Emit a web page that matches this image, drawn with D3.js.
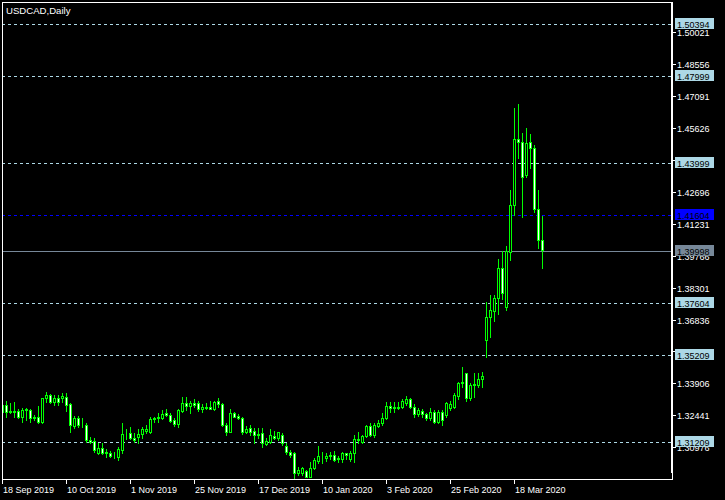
<!DOCTYPE html>
<html>
<head>
<meta charset="utf-8">
<script src="https://cdn.jsdelivr.net/npm/d3@7/dist/d3.min.js"></script>
<style>
html,body{margin:0;padding:0;background:#000;}
svg{display:block;}
text{font-family:"Liberation Sans",Arial,sans-serif;}
</style>
</head>
<body>
<svg id="chart" width="725" height="500"></svg>
<script>
// ---------- DATA ----------
const chartTitle = "USDCAD,Daily";

// daily OHLC, 18 Sep 2019 .. 27 Mar 2020 (136 bars)
const openValues = [
1.3262,1.3292,1.3263,1.3261,1.3263,1.3238,1.3269,1.3269,1.3238,1.3238,
1.3212,1.3322,1.3338,1.3307,1.3322,1.3322,1.3330,1.3295,1.3197,1.3234,
1.3200,1.3200,1.3131,1.3127,1.3073,1.3093,1.3073,1.3073,1.3058,1.3055,
1.3086,1.3159,1.3165,1.3142,1.3144,1.3159,1.3174,1.3170,1.3226,1.3232,
1.3231,1.3254,1.3246,1.3223,1.3203,1.3266,1.3303,1.3287,1.3300,1.3300,
1.3272,1.3281,1.3281,1.3272,1.3312,1.3296,1.3200,1.3170,1.3254,1.3241,
1.3231,1.3167,1.3185,1.3174,1.3154,1.3162,1.3113,1.3124,1.3150,1.3139,
1.3154,1.3104,1.3078,1.3073,1.2979,1.2982,1.2991,1.2963,1.3002,1.3037,
1.3055,1.3047,1.3058,1.3063,1.3043,1.3043,1.3070,1.3043,1.3070,1.3130,
1.3124,1.3150,1.3196,1.3154,1.3196,1.3208,1.3231,1.3287,1.3281,1.3277,
1.3281,1.3303,1.3318,1.3284,1.3251,1.3266,1.3251,1.3231,1.3261,1.3215,
1.3261,1.3246,1.3277,1.3284,1.3333,1.3391,1.3437,1.3322,1.3383,1.3383,
1.3409,1.3590,1.3694,1.3724,1.3781,1.3918,1.3743,1.3995,1.4208,1.4509,
1.4499,1.4346,1.4499,1.4468,1.4189,1.4048];
const highValues = [
1.3296,1.3310,1.3299,1.3304,1.3273,1.3280,1.3276,1.3273,1.3246,1.3289,
1.3325,1.3350,1.3341,1.3338,1.3338,1.3345,1.3345,1.3299,1.3243,1.3243,
1.3234,1.3211,1.3144,1.3139,1.3119,1.3119,1.3090,1.3083,1.3078,1.3101,
1.3211,1.3180,1.3193,1.3165,1.3180,1.3193,1.3200,1.3235,1.3238,1.3257,
1.3269,1.3272,1.3254,1.3231,1.3272,1.3330,1.3327,1.3312,1.3318,1.3312,
1.3296,1.3300,1.3312,1.3312,1.3323,1.3300,1.3211,1.3272,1.3261,1.3251,
1.3238,1.3196,1.3200,1.3185,1.3185,1.3185,1.3139,1.3180,1.3174,1.3170,
1.3162,1.3116,1.3086,1.3076,1.3009,1.3006,1.2994,1.3032,1.3047,1.3104,
1.3078,1.3070,1.3078,1.3083,1.3058,1.3078,1.3074,1.3083,1.3154,1.3170,
1.3154,1.3200,1.3208,1.3208,1.3223,1.3254,1.3307,1.3307,1.3307,1.3307,
1.3318,1.3333,1.3322,1.3296,1.3277,1.3272,1.3254,1.3277,1.3269,1.3269,
1.3269,1.3307,1.3312,1.3345,1.3399,1.3468,1.3440,1.3391,1.3437,1.3437,
1.3445,1.3766,1.3796,1.3796,1.3959,1.3999,1.4021,1.4277,1.4652,1.4671,
1.4540,1.4560,1.4534,1.4484,1.4277,1.4158];
const lowValues = [
1.3244,1.3238,1.3254,1.3238,1.3231,1.3215,1.3223,1.3212,1.3223,1.3208,
1.3208,1.3307,1.3299,1.3292,1.3292,1.3307,1.3264,1.3170,1.3188,1.3193,
1.3193,1.3124,1.3116,1.3078,1.3067,1.3067,1.3055,1.3052,1.3047,1.3040,
1.3073,1.3135,1.3135,1.3124,1.3116,1.3139,1.3162,1.3165,1.3216,1.3216,
1.3226,1.3242,1.3216,1.3196,1.3190,1.3261,1.3269,1.3254,1.3281,1.3266,
1.3261,1.3272,1.3272,1.3270,1.3284,1.3196,1.3154,1.3166,1.3235,1.3226,
1.3159,1.3162,1.3154,1.3116,1.3139,1.3101,1.3109,1.3116,1.3135,1.3131,
1.3109,1.3067,1.3052,1.2951,1.2971,1.2971,1.2960,1.2960,1.2997,1.3024,
1.3024,1.3037,1.3043,1.3037,1.3032,1.3032,1.3043,1.3037,1.3032,1.3119,
1.3119,1.3147,1.3150,1.3147,1.3190,1.3200,1.3226,1.3261,1.3261,1.3272,
1.3277,1.3292,1.3276,1.3235,1.3241,1.3235,1.3223,1.3223,1.3211,1.3211,
1.3200,1.3238,1.3269,1.3276,1.3318,1.3376,1.3312,1.3315,1.3327,1.3376,
1.3376,1.3513,1.3605,1.3678,1.3709,1.3776,1.3727,1.3956,1.4163,1.4422,
1.4152,1.4335,1.4376,1.4178,1.4010,1.3918];
const closeValues = [
1.3291,1.3261,1.3261,1.3263,1.3238,1.3269,1.3273,1.3234,1.3231,1.3215,
1.3322,1.3338,1.3304,1.3322,1.3307,1.3334,1.3292,1.3200,1.3234,1.3200,
1.3202,1.3132,1.3124,1.3086,1.3093,1.3070,1.3075,1.3058,1.3056,1.3089,
1.3159,1.3161,1.3139,1.3131,1.3159,1.3180,1.3180,1.3226,1.3231,1.3235,
1.3251,1.3246,1.3220,1.3203,1.3269,1.3303,1.3287,1.3303,1.3294,1.3272,
1.3284,1.3278,1.3273,1.3307,1.3297,1.3200,1.3170,1.3257,1.3238,1.3231,
1.3170,1.3180,1.3170,1.3154,1.3159,1.3116,1.3128,1.3154,1.3140,1.3167,
1.3119,1.3078,1.3063,1.2982,1.2994,1.3002,1.2963,1.3002,1.3040,1.3058,
1.3052,1.3058,1.3063,1.3040,1.3047,1.3073,1.3063,1.3073,1.3135,1.3135,
1.3150,1.3196,1.3154,1.3200,1.3211,1.3231,1.3287,1.3277,1.3277,1.3281,
1.3312,1.3318,1.3284,1.3251,1.3269,1.3251,1.3231,1.3261,1.3215,1.3261,
1.3223,1.3299,1.3296,1.3338,1.3394,1.3399,1.3322,1.3383,1.3388,1.3409,
1.3425,1.3694,1.3727,1.3781,1.3918,1.3804,1.3999,1.4208,1.4509,1.4499,
1.4335,1.4494,1.4468,1.4189,1.4048,1.4000];

// time axis labels and the bar index they sit on
const timeLabelText = ["18 Sep 2019","10 Oct 2019","1 Nov 2019","25 Nov 2019","17 Dec 2019","10 Jan 2020","3 Feb 2020","25 Feb 2020","18 Mar 2020"];
const timeLabelBar = [0,16,32,48,64,80,96,112,128];

// price axis tick labels
const priceTickValues = [1.50021,1.48556,1.47091,1.45626,1.44161,1.42696,1.41231,1.39766,1.38301,1.36836,1.35371,1.33906,1.32441,1.30976];

// horizontal level lines
const levelValues = [1.50394,1.47999,1.43999,1.37604,1.35209,1.31209];
const blueLevelValue = 1.41604;
const bidValue = 1.39998;

// ---------- DRAW ----------
const svg = d3.select("#chart");
svg.append("rect").attr("width",725).attr("height",500).attr("fill","#000");

const plotLeft = 2, plotTop = 2, plotRight = 672, plotBottom = 479;

const x = d3.scaleLinear().domain([0, 167.5]).range([2.5, 672.5]);
const y = d3.scaleLinear().domain([1.29802, 1.51389]).range([473, 2]);

const bars = openValues.map((o,i)=>({i, o, h:highValues[i], l:lowValues[i], c:closeValues[i]}));

const defs = svg.append("defs");
defs.append("clipPath").attr("id","plotclip").append("rect")
  .attr("x",plotLeft+1).attr("y",plotTop+1)
  .attr("width",plotRight-plotLeft-2).attr("height",plotBottom-plotTop-1);

const plot = svg.append("g").attr("clip-path","url(#plotclip)").attr("shape-rendering","crispEdges");

const ry = v => Math.round(y(v)) + 0.5;

// level lines (behind candles)
plot.selectAll("line.level").data(levelValues).enter().append("line")
  .attr("class","level")
  .attr("x1",plotLeft).attr("x2",plotRight)
  .attr("y1",ry).attr("y2",ry)
  .attr("stroke","#ADD8E6").attr("stroke-width",1).attr("stroke-dasharray","3,3");
plot.append("line")
  .attr("x1",plotLeft).attr("x2",plotRight)
  .attr("y1",ry(blueLevelValue)).attr("y2",ry(blueLevelValue))
  .attr("stroke","#0000FF").attr("stroke-width",1).attr("stroke-dasharray","3,3");
plot.append("line")
  .attr("x1",plotLeft).attr("x2",plotRight)
  .attr("y1",ry(bidValue)).attr("y2",ry(bidValue))
  .attr("stroke","#778899").attr("stroke-width",1);

// candles
const candle = plot.selectAll("g.candle").data(bars).enter().append("g").attr("class","candle");
candle.append("line")
  .attr("x1",d=>x(d.i)).attr("x2",d=>x(d.i))
  .attr("y1",d=>Math.round(y(d.h)))
  .attr("y2",d=>Math.round(y(d.l))+1)
  .attr("stroke","#00FF00").attr("stroke-width",1);
candle.append("rect")
  .attr("x",d=>x(d.i)-1)
  .attr("width",2)
  .attr("y",d=>ry(Math.max(d.o,d.c)))
  .attr("height",d=>Math.max(0, ry(Math.min(d.o,d.c)) - ry(Math.max(d.o,d.c))))
  .attr("fill",d=>d.c>=d.o ? "#000000" : "#FFFFFF")
  .attr("stroke","#00FF00").attr("stroke-width",1);

// frame
const frame = svg.append("g").attr("shape-rendering","crispEdges").attr("stroke","#FFFFFF").attr("stroke-width",1);
frame.append("line").attr("x1",plotLeft+0.5).attr("x2",plotLeft+0.5).attr("y1",plotTop).attr("y2",plotBottom+1);
frame.append("line").attr("x1",plotLeft).attr("x2",plotRight+1).attr("y1",plotTop+0.5).attr("y2",plotTop+0.5);
frame.append("line").attr("x1",plotLeft).attr("x2",plotRight+1).attr("y1",plotBottom+0.5).attr("y2",plotBottom+0.5);
frame.append("line").attr("x1",plotRight+0.5).attr("x2",plotRight+0.5).attr("y1",plotTop).attr("y2",plotBottom+1);
frame.append("line").attr("x1",plotRight-0.5).attr("x2",plotRight-0.5).attr("y1",plotTop).attr("y2",473);

// price axis ticks and labels
const pAxis = svg.append("g");
pAxis.selectAll("line").data(priceTickValues).enter().append("line")
  .attr("shape-rendering","crispEdges")
  .attr("x1",plotRight+1).attr("x2",plotRight+4)
  .attr("y1",ry).attr("y2",ry)
  .attr("stroke","#FFFFFF");
pAxis.selectAll("text").data(priceTickValues).enter().append("text")
  .attr("x",plotRight+5).attr("y",d=>Math.round(y(d))+4)
  .attr("fill","#FFFFFF").attr("font-size","9px")
  .text(d=>d.toFixed(5));

// time axis ticks and labels
const tAxis = svg.append("g");
tAxis.selectAll("line").data(timeLabelBar).enter().append("line")
  .attr("shape-rendering","crispEdges")
  .attr("x1",d=>x(d)).attr("x2",d=>x(d))
  .attr("y1",plotBottom+1).attr("y2",plotBottom+5)
  .attr("stroke","#FFFFFF");
tAxis.selectAll("text").data(timeLabelBar).enter().append("text")
  .attr("x",d=>x(d)+0.5).attr("y",493)
  .attr("fill","#FFFFFF").attr("font-size","9px")
  .text((d,k)=>timeLabelText[k]);

// level labels on the price axis
const labelData = levelValues.map(v=>({v, bg:"#ADD8E6"}))
  .concat([{v:blueLevelValue, bg:"#0000FF"},{v:bidValue, bg:"#778899"}]);
const lab = svg.append("g").selectAll("g").data(labelData).enter().append("g");
lab.append("rect")
  .attr("shape-rendering","crispEdges")
  .attr("x",plotRight+3).attr("y",d=>Math.round(y(d.v))-6)
  .attr("width",39).attr("height",11)
  .attr("fill",d=>d.bg);
lab.append("text")
  .attr("x",plotRight+5).attr("y",d=>Math.round(y(d.v))+4)
  .attr("fill","#000000").attr("font-size","9px")
  .text(d=>d.v.toFixed(5));

// title
svg.append("text").attr("x",6).attr("y",13.5)
  .attr("fill","#FFFFFF").attr("font-size","9.6px")
  .text(chartTitle);
</script>
</body>
</html>
